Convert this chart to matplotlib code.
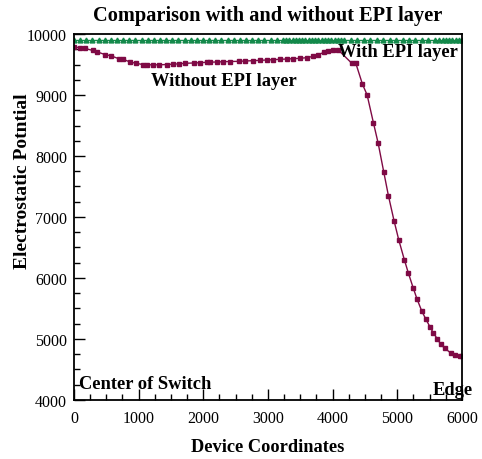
import matplotlib
matplotlib.use('Agg')
import matplotlib.pyplot as plt
from matplotlib.ticker import MultipleLocator

plt.rcParams['font.family'] = ['Liberation Serif', 'DejaVu Serif']

# potential along the device, without the EPI layer (mesh nodes)
x_no_epi = [0, 93, 170, 289, 351, 484, 567, 691, 763, 866, 959, 1062, 1134,
            1227, 1320, 1433, 1536, 1629, 1717, 1856, 1949, 2052, 2103, 2207,
            2310, 2412, 2557, 2644, 2773, 2876, 2980, 3083, 3186, 3299, 3392,
            3495, 3598, 3701, 3778, 3866, 3933, 4010, 4082, 4296, 4358, 4460,
            4533, 4631, 4703, 4791, 4862, 4950, 5021, 5108, 5170, 5247, 5304,
            5377, 5439, 5505, 5557, 5619, 5671, 5733, 5825, 5897, 5969, 6000]
v_no_epi = [9795, 9770, 9765, 9730, 9710, 9661, 9645, 9595, 9585, 9541, 9520,
            9500, 9495, 9495, 9495, 9500, 9505, 9512, 9520, 9525, 9530, 9536,
            9538, 9541, 9546, 9549, 9552, 9557, 9563, 9568, 9574, 9579, 9585,
            9590, 9596, 9601, 9612, 9634, 9661, 9700, 9727, 9743, 9743, 9520,
            9520, 9180, 9000, 8541, 8213, 7733, 7350, 6935, 6629, 6301, 6083,
            5832, 5657, 5460, 5329, 5198, 5099, 5001, 4914, 4849, 4771, 4739,
            4717, 4715]

# potential along the device, with the EPI layer
x_epi = [0, 95, 190, 285, 380, 475, 570, 665, 760, 855, 950, 1045, 1140,
         1235, 1330, 1425, 1520, 1615, 1710, 1805, 1900, 1995, 2090, 2185,
         2280, 2375, 2470, 2565, 2660, 2755, 2850, 2945, 3040, 3135, 3230,
         3280, 3330, 3380, 3430, 3480, 3530, 3580, 3630, 3680, 3730, 3780,
         3830, 3880, 3930, 3980, 4030, 4080, 4130, 4180, 4280, 4380, 4480,
         4580, 4680, 4780, 4880, 4980, 5080, 5180, 5280, 5380, 5480, 5580,
         5640, 5700, 5750, 5800, 5850, 5900, 5950, 6000]
v_epi = [9900] * len(x_epi)

fig = plt.figure(figsize=(4.82, 4.60), dpi=100)
ax = fig.add_axes([0.1535, 0.1283, 0.805, 0.7956])

ax.plot(x_epi, v_epi, color='#13894a', lw=1.0, marker='^', ms=3.5,
        mec='#13894a', mfc='#13894a')
ax.plot(x_no_epi, v_no_epi, color='#7f0a45', lw=1.0, marker='s', ms=3.4,
        mec='#7f0a45', mfc='#7f0a45')

ax.set_xlim(0, 6000)
ax.set_ylim(4000, 10000)
ax.xaxis.set_major_locator(MultipleLocator(1000))
ax.xaxis.set_minor_locator(MultipleLocator(250))
ax.yaxis.set_major_locator(MultipleLocator(1000))
ax.yaxis.set_minor_locator(MultipleLocator(250))
ax.tick_params(which='both', direction='in', top=False, right=False,
               labelsize=11.5, width=1.0)
ax.tick_params(which='major', length=8)
ax.tick_params(axis='x', which='major', pad=7)
ax.tick_params(axis='y', which='major', pad=5)
ax.tick_params(which='minor', length=4)
for s in ax.spines.values():
    s.set_linewidth(1.3)

ax.set_title('Comparison with and without EPI layer', fontsize=14.7,
             fontweight='bold', pad=10)
ax.set_xlabel('Device Coordinates', fontsize=13.2, fontweight='bold',
              labelpad=9)
fig.text(23 / 482, 1 - 181 / 460, 'Electrostatic Potntial', fontsize=14,
         fontweight='bold', rotation=90, ha='center', va='center')

ax.text(1191, 9230, 'Without EPI layer', fontsize=13.3, fontweight='bold',
        ha='left', va='center')
ax.text(4082, 9705, 'With EPI layer', fontsize=13.3, fontweight='bold',
        ha='left', va='center')
ax.text(80, 4263, 'Center of Switch', fontsize=13.3, fontweight='bold',
        ha='left', va='center')
ax.text(6170, 4180, 'Edge', fontsize=13.3, fontweight='bold',
        ha='right', va='center', clip_on=False)

fig.savefig('out.png', dpi=100)
